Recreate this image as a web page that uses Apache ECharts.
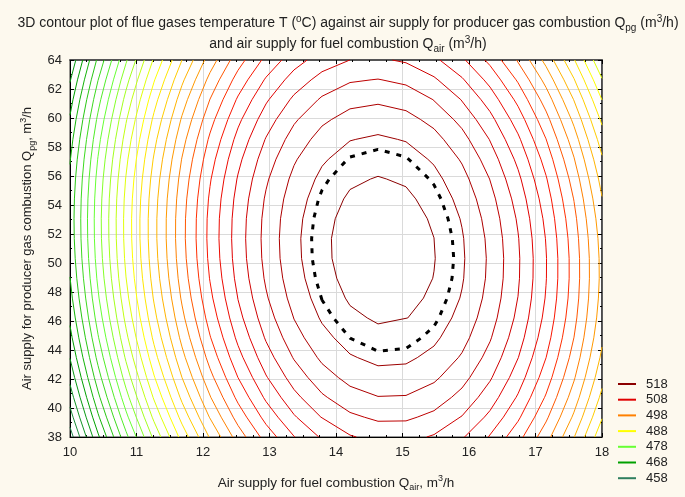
<!DOCTYPE html>
<html>
<head>
<meta charset="utf-8">
<script src="https://cdn.jsdelivr.net/npm/echarts@6/dist/echarts.min.js"></script>
<style>
html,body{margin:0;padding:0;background:#fdf9ee;}
#chart{width:685px;height:497px;}
</style>
</head>
<body>
<div id="chart"></div>
<script>
// ---------------- data ----------------
const xTicks = [10, 11, 12, 13, 14, 15, 16, 17, 18];
const yTicks = [38, 40, 42, 44, 46, 48, 50, 52, 54, 56, 58, 60, 62, 64];
const contourLevels = [458, 460, 462, 464, 466, 468, 470, 472, 474, 476, 478, 480, 482, 484, 486, 488,
                       490, 492, 494, 496, 498, 500, 502, 504, 506, 508, 510, 512, 514, 516, 518];
const legendLevels = [518, 508, 498, 488, 478, 468, 458];
const dashedLevel = [516.8];
// fitted response surface T(Qair, Qpg) estimated from the contour positions
const peakTemperature = [519.4];          // maximum T, deg C
const surfaceCenter = [14.70, 50.85];     // Qair, Qpg at the maximum
const surfaceCurvature = [2.21, 0.053, 0.047]; // Qair^2, Qpg^2, Qair*Qpg terms
const gridCount = [20, 20];               // contouring grid nodes (Qair, Qpg)

// ---------------- styles ----------------
const colorStopLevels = [458, 468, 478, 488, 498, 503, 508, 518];
const colorStops = ['#2f7f5f', '#00a000', '#66ff33', '#ffff00', '#ff8000', '#ff1a00', '#e00000', '#8b0000'];
const FONT = 'Liberation Sans, Arial, sans-serif';

function hexToRgb(h) {
  return [parseInt(h.substr(1, 2), 16), parseInt(h.substr(3, 2), 16), parseInt(h.substr(5, 2), 16)];
}
function levelColor(L) {
  const lv = colorStopLevels, cs = colorStops;
  if (L <= lv[0]) return cs[0];
  if (L >= lv[lv.length - 1]) return cs[cs.length - 1];
  for (let k = 0; k < lv.length - 1; k++) {
    if (L <= lv[k + 1]) {
      const t = (L - lv[k]) / (lv[k + 1] - lv[k]);
      const a = hexToRgb(cs[k]), b = hexToRgb(cs[k + 1]);
      const c = a.map((v, i) => Math.round(v + t * (b[i] - v)));
      return 'rgb(' + c.join(',') + ')';
    }
  }
  return cs[cs.length - 1];
}

function temperature(x, y) {
  const u = x - surfaceCenter[0], v = y - surfaceCenter[1];
  return peakTemperature[0] - surfaceCurvature[0] * u * u - surfaceCurvature[1] * v * v - surfaceCurvature[2] * u * v;
}

// marching squares on the grid, chained into polylines
function contourPaths(level) {
  const nx = gridCount[0], ny = gridCount[1];
  const x0 = xTicks[0], x1 = xTicks[xTicks.length - 1];
  const y0 = yTicks[0], y1 = yTicks[yTicks.length - 1];
  const xs = [], ys = [];
  for (let i = 0; i < nx; i++) xs.push(x0 + i * (x1 - x0) / (nx - 1));
  for (let j = 0; j < ny; j++) ys.push(y0 + j * (y1 - y0) / (ny - 1));
  const V = xs.map(x => ys.map(y => temperature(x, y)));
  const pts = {}, adj = {};
  function ep(id, xa, ya, va, xb, yb, vb) {
    if (!pts[id]) {
      const t = (level - va) / (vb - va);
      pts[id] = [xa + t * (xb - xa), ya + t * (yb - ya)];
    }
    return id;
  }
  function link(a, b) {
    (adj[a] = adj[a] || []).push(b);
    (adj[b] = adj[b] || []).push(a);
  }
  for (let i = 0; i < nx - 1; i++) {
    for (let j = 0; j < ny - 1; j++) {
      const a = V[i][j], b = V[i + 1][j], c = V[i + 1][j + 1], d = V[i][j + 1];
      const cr = [];
      if ((a >= level) !== (b >= level)) cr.push(ep('h' + i + '_' + j, xs[i], ys[j], a, xs[i + 1], ys[j], b));
      if ((b >= level) !== (c >= level)) cr.push(ep('v' + (i + 1) + '_' + j, xs[i + 1], ys[j], b, xs[i + 1], ys[j + 1], c));
      if ((d >= level) !== (c >= level)) cr.push(ep('h' + i + '_' + (j + 1), xs[i], ys[j + 1], d, xs[i + 1], ys[j + 1], c));
      if ((a >= level) !== (d >= level)) cr.push(ep('v' + i + '_' + j, xs[i], ys[j], a, xs[i], ys[j + 1], d));
      if (cr.length === 2) link(cr[0], cr[1]);
      else if (cr.length === 4) { link(cr[0], cr[3]); link(cr[1], cr[2]); }
    }
  }
  const used = new Set(), lines = [];
  function walk(start) {
    const line = [pts[start]];
    used.add(start);
    let prev = null, cur = start;
    while (true) {
      const nb = (adj[cur] || []).filter(n => n !== prev && !used.has(n));
      if (!nb.length) {
        if (line.length > 2 && adj[cur].indexOf(start) >= 0) line.push(pts[start]);
        break;
      }
      prev = cur; cur = nb[0];
      used.add(cur);
      line.push(pts[cur]);
    }
    return line;
  }
  Object.keys(adj).forEach(id => { if (adj[id].length === 1 && !used.has(id)) lines.push(walk(id)); });
  Object.keys(adj).forEach(id => { if (!used.has(id)) lines.push(walk(id)); });
  return lines;
}

const series = [];
legendLevels.forEach(L => {
  const col = levelColor(L);
  series.push({ type: 'line', name: String(L), data: [], symbol: 'none',
    lineStyle: { color: col, width: 1 }, itemStyle: { color: col } });
});
contourLevels.forEach(L => {
  const col = levelColor(L);
  contourPaths(L).forEach(path => {
    series.push({ type: 'line', name: String(L), data: path, symbol: 'none', showSymbol: false,
      silent: true, animation: false, clip: true, z: 3,
      lineStyle: { color: col, width: 1 }, itemStyle: { color: col } });
  });
});
dashedLevel.forEach(L => {
  contourPaths(L).forEach(path => {
    series.push({ type: 'line', name: 'dashed', data: path, symbol: 'none', showSymbol: false,
      silent: true, animation: false, clip: true, z: 4,
      lineStyle: { color: '#000', width: 3, type: [5, 7] }, itemStyle: { color: '#000' } });
  });
});

const richSubSup = {
  sub: { fontSize: 9, fontFamily: FONT, color: '#222', padding: [9, 0, 0, 0] },
  sup: { fontSize: 9, fontFamily: FONT, color: '#222', padding: [0, 0, 8, 0] }
};
const richTitle = {
  sub: { fontSize: 10, fontFamily: FONT, color: '#222', padding: [9, 0, 0, 0] },
  sup: { fontSize: 10, fontFamily: FONT, color: '#222', padding: [0, 0, 8, 0] }
};

const axisCommon = {
  type: 'value',
  axisLine: { show: true, onZero: false, lineStyle: { color: '#000', width: 1 } },
  axisTick: { show: true, inside: true, length: 4, lineStyle: { color: '#000' } },
  minorTick: { show: true, length: 2, lineStyle: { color: '#000' } },
};

const chart = echarts.init(document.getElementById('chart'), null, { renderer: 'canvas', devicePixelRatio: 1 });
chart.setOption({
  animation: false,
  backgroundColor: '#fdf9ee',
  title: {
    text: '3D contour plot of flue gases temperature T ({sup|o}C) against air supply for producer gas combustion Q{sub|pg} (m{sup|3}/h)\nand air supply for fuel combustion Q{sub|air} (m{sup|3}/h)',
    left: 343, top: 8, textAlign: 'center',
    textStyle: { fontSize: 14, fontWeight: 'normal', fontFamily: FONT, color: '#222', lineHeight: 21, rich: richTitle }
  },
  grid: { left: 70, right: 83, top: 60, bottom: 57, show: true, backgroundColor: '#ffffff', borderColor: '#333', borderWidth: 1 },
  legend: {
    data: legendLevels.map(String), orient: 'vertical', left: 613, top: 372,
    icon: 'rect', itemWidth: 18, itemHeight: 2, itemGap: 1.7, selectedMode: false,
    textStyle: { fontSize: 13, fontFamily: FONT, color: '#222', lineHeight: 14, padding: [0, 0, 0, 5] }
  },
  xAxis: [
    Object.assign({}, axisCommon, {
      min: xTicks[0], max: xTicks[xTicks.length - 1], interval: 1, position: 'bottom',
      minorTick: Object.assign({}, axisCommon.minorTick, { splitNumber: 4 }),
      axisLabel: { fontSize: 13, fontFamily: FONT, color: '#222', margin: 9 },
      splitLine: { show: true, lineStyle: { color: '#dadada', width: 1 } },
      name: 'Air supply for fuel combustion Q{sub|air}, m{sup|3}/h',
      nameLocation: 'middle', nameGap: 37,
      nameTextStyle: { fontSize: 13.5, fontFamily: FONT, color: '#222', rich: richSubSup }
    }),
    Object.assign({}, axisCommon, {
      min: xTicks[0], max: xTicks[xTicks.length - 1], interval: 1, position: 'top',
      minorTick: Object.assign({}, axisCommon.minorTick, { splitNumber: 4 }),
      axisLine: { show: true, onZero: false, lineStyle: { color: '#555', width: 2 } },
      axisLabel: { show: false }, splitLine: { show: false }
    })
  ],
  yAxis: [
    Object.assign({}, axisCommon, {
      min: yTicks[0], max: yTicks[yTicks.length - 1], interval: 2, position: 'left',
      minorTick: Object.assign({}, axisCommon.minorTick, { splitNumber: 2 }),
      axisLabel: { fontSize: 13, fontFamily: FONT, color: '#222', margin: 8 },
      splitLine: { show: true, lineStyle: { color: '#dadada', width: 1 } },
      name: 'Air supply for producer gas combustion Q{sub|pg}, m{sup|3}/h',
      nameLocation: 'middle', nameGap: 28, nameRotate: 90,
      nameTextStyle: { fontSize: 13, fontFamily: FONT, color: '#222', rich: richSubSup }
    }),
    Object.assign({}, axisCommon, {
      min: yTicks[0], max: yTicks[yTicks.length - 1], interval: 2, position: 'right',
      minorTick: Object.assign({}, axisCommon.minorTick, { splitNumber: 2 }),
      axisLine: { show: true, onZero: false, lineStyle: { color: '#333', width: 1.5 } },
      axisLabel: { show: false }, splitLine: { show: false }
    })
  ],
  series: series
});
</script>
</body>
</html>
